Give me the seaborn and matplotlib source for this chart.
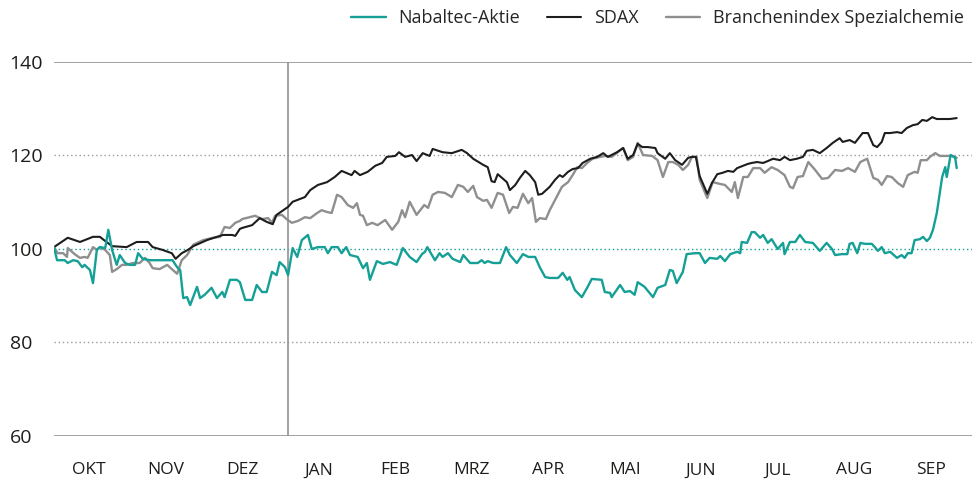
import seaborn as sns
import matplotlib.pyplot as plt

# x positions are fractional months from 1 Oct (0 = start of OKT, 12 = end of SEP)
months = ["OKT", "NOV", "DEZ", "JAN", "FEB", "MRZ", "APR", "MAI", "JUN", "JUL", "AUG", "SEP"]

sdax_x = [0.04, 0.22, 0.38, 0.55, 0.64, 0.71, 0.80, 0.99, 1.12, 1.27, 1.33, 1.46, 1.58, 1.63, 1.71, 1.79, 1.86,
          2.04, 2.17, 2.25, 2.37, 2.41, 2.47,
          2.50, 2.63, 2.73, 2.82, 2.90, 2.95, 3.10, 3.16, 3.32, 3.39, 3.49, 3.61, 3.71, 3.80, 3.93, 3.97, 4.04,
          4.14, 4.24, 4.33, 4.39, 4.50, 4.55, 4.63, 4.72, 4.78, 4.86,
          4.95, 4.99, 5.12, 5.24, 5.37, 5.44, 5.52, 5.65, 5.71, 5.76, 5.80, 5.84, 5.91, 5.96, 6.00, 6.07, 6.13,
          6.20, 6.26, 6.33, 6.37, 6.42, 6.46, 6.52, 6.59, 6.65, 6.69, 6.76, 6.82, 6.89, 6.95, 7.05, 7.14, 7.22, 7.28,
          7.40, 7.48, 7.54, 7.61, 7.67, 7.73, 7.80, 7.90, 7.93, 8.03, 8.09, 8.16, 8.25, 8.33, 8.38, 8.43, 8.48,
          8.58, 8.64, 8.71, 8.78, 8.85, 8.92, 8.97, 9.05, 9.11, 9.16, 9.23, 9.31, 9.37, 9.44, 9.53, 9.59, 9.66,
          9.75, 9.83, 9.88, 9.96, 10.05, 10.14, 10.22, 10.31, 10.35, 10.44, 10.51, 10.61, 10.68, 10.75, 10.80,
          10.86, 10.90, 10.97, 11.06, 11.12, 11.19, 11.27, 11.33, 11.39, 11.45, 11.52, 11.58, 11.66, 11.75, 11.84]
sdax = [100.4, 102.4, 101.5, 102.6, 102.6, 101.7, 100.6, 100.4, 101.5, 101.5, 100.4, 99.8, 99.1, 97.9, 99.1, 99.8, 100.6,
        101.9, 102.6, 103.0, 103.0, 102.8, 104.3,
        104.5, 105.1, 106.6, 105.8, 105.3, 107.3, 109.0, 110.1, 111.1, 112.6, 113.7, 114.3, 115.4, 116.7, 115.8, 116.7, 115.8,
        116.5, 117.8, 118.4, 119.7, 119.9, 120.7, 119.7, 120.1, 118.8, 120.5,
        119.9, 121.4, 120.7, 120.5, 121.2, 120.5, 119.3, 118.0, 117.5, 114.5, 114.3, 116.0, 115.0, 114.3, 112.6, 113.7, 115.2,
        116.7, 115.8, 114.3, 111.6, 111.8, 112.4, 113.3, 114.8, 115.8, 115.4, 116.5, 117.1, 117.3, 118.4, 119.3, 119.7, 120.5, 119.7,
        120.7, 121.6, 119.3, 120.1, 122.5, 121.8, 121.8, 121.6, 120.5, 119.3, 120.5, 119.0, 118.0, 119.5, 119.7, 119.7, 115.6,
        111.8, 114.1, 116.0, 116.3, 116.7, 116.5, 117.3, 117.8, 118.2, 118.4, 118.6, 118.4, 118.8, 119.3, 119.0, 119.7, 119.0,
        119.3, 119.7, 121.0, 121.2, 120.5, 121.6, 122.7, 123.7, 122.9, 123.3, 122.7, 124.8, 124.8, 122.2, 121.8,
        122.9, 124.8, 124.8, 125.0, 124.8, 125.9, 126.5, 126.7, 127.6, 127.4, 128.2, 127.8, 127.8, 127.8, 128.0]

chem_x = [0.04, 0.09, 0.16, 0.21, 0.22, 0.31, 0.38, 0.44, 0.48, 0.55, 0.60, 0.64, 0.71, 0.77, 0.80, 0.86, 0.93, 0.99,
          1.07, 1.16, 1.23, 1.29, 1.33, 1.42, 1.52, 1.58, 1.65, 1.71, 1.78, 1.86, 1.99, 2.12, 2.21, 2.27, 2.34, 2.41, 2.47,
          2.50, 2.60, 2.67, 2.76, 2.84, 2.89, 2.93, 3.02, 3.08, 3.15, 3.23, 3.32, 3.39, 3.48, 3.54, 3.61, 3.67, 3.74,
          3.80, 3.88, 3.95, 4.00, 4.04, 4.08, 4.13, 4.20, 4.27, 4.37, 4.46, 4.54, 4.59, 4.63, 4.69, 4.78, 4.88,
          4.93, 4.99, 5.06, 5.15, 5.24, 5.32, 5.39, 5.45, 5.52, 5.57, 5.65, 5.70, 5.76, 5.84, 5.91, 5.99, 6.04, 6.10,
          6.17, 6.24, 6.29, 6.34, 6.39, 6.47, 6.52, 6.59, 6.68, 6.76, 6.82, 6.88, 6.94, 7.01, 7.08, 7.18, 7.24,
          7.33, 7.41, 7.48, 7.54, 7.61, 7.67, 7.74, 7.86, 7.93, 8.00, 8.07, 8.13, 8.20, 8.26, 8.33, 8.38, 8.44, 8.48,
          8.58, 8.65, 8.75, 8.81, 8.90, 8.94, 8.98, 9.05, 9.11, 9.18, 9.27, 9.33, 9.42, 9.50, 9.59, 9.66,
          9.70, 9.76, 9.83, 9.90, 9.99, 10.08, 10.16, 10.25, 10.34, 10.42, 10.51, 10.58, 10.67, 10.75, 10.81, 10.86,
          10.93, 10.99, 11.07, 11.14, 11.20, 11.29, 11.33, 11.37, 11.45, 11.49, 11.56, 11.62, 11.73, 11.79, 11.84]
chem = [100.4, 99.1, 99.1, 98.3, 100.2, 98.9, 98.1, 98.3, 98.1, 100.4, 99.8, 100.4, 99.8, 98.7, 95.1, 95.7, 96.6, 96.6,
        97.0, 97.0, 98.1, 97.0, 95.9, 95.7, 96.6, 95.7, 94.7, 97.6, 98.7, 100.9, 101.9, 102.4, 102.6, 104.7, 104.5, 105.6, 106.0,
        106.4, 106.8, 107.1, 106.4, 106.6, 105.6, 107.1, 107.3, 106.4, 105.6, 106.0, 106.8, 106.6, 107.7, 108.3, 107.9, 107.7, 111.6,
        111.1, 109.4, 108.8, 109.8, 107.3, 107.1, 105.1, 105.6, 105.1, 106.2, 104.1, 105.8, 108.3, 106.8, 110.1, 107.3, 109.4,
        108.8, 111.6, 112.2, 112.0, 111.1, 113.7, 113.3, 112.2, 113.5, 111.1, 110.3, 110.5, 108.8, 112.0, 111.6, 107.7, 109.0, 108.8,
        111.8, 109.8, 110.9, 105.8, 106.6, 106.4, 108.3, 110.5, 113.3, 114.3, 115.8, 117.5, 117.3, 118.4, 119.3, 119.7, 119.9,
        119.7, 120.7, 121.6, 119.0, 119.7, 122.7, 120.1, 119.9, 119.0, 115.4, 118.6, 118.6, 118.0, 116.9, 118.0, 119.7, 119.7, 114.8,
        110.9, 114.3, 113.9, 113.7, 112.2, 114.3, 110.9, 115.4, 115.4, 117.3, 117.3, 116.3, 117.5, 116.9, 115.8, 113.3,
        113.0, 115.4, 115.6, 118.6, 116.9, 115.0, 115.2, 116.9, 116.7, 117.3, 116.5, 118.6, 119.3, 115.2, 114.8, 113.7,
        115.6, 115.4, 114.1, 113.3, 115.8, 116.5, 116.3, 119.0, 119.0, 119.7, 120.5, 119.9, 119.9, 119.9, 119.5]

nab_x = [0.04, 0.08, 0.18, 0.22, 0.29, 0.35, 0.41, 0.44, 0.51, 0.55, 0.60, 0.64, 0.71, 0.75, 0.80, 0.86, 0.90, 0.97,
         1.03, 1.10, 1.14, 1.20, 1.29, 1.46, 1.59, 1.65, 1.69, 1.73, 1.78, 1.82, 1.91, 1.95, 2.01, 2.10, 2.17, 2.24, 2.27,
         2.34, 2.43, 2.47,
         2.54, 2.63, 2.69, 2.76, 2.82, 2.89, 2.95, 2.99, 3.06, 3.10, 3.16, 3.22, 3.28, 3.36, 3.41, 3.49, 3.58, 3.62,
         3.67, 3.75, 3.80, 3.86, 3.91, 4.01, 4.08, 4.13, 4.17, 4.26, 4.34, 4.43, 4.52, 4.60, 4.69, 4.78, 4.85, 4.89,
         4.92, 5.02, 5.08, 5.12, 5.19, 5.25, 5.35, 5.39, 5.48, 5.58, 5.63, 5.67, 5.71, 5.78, 5.87, 5.95, 6.00, 6.09,
         6.17, 6.24, 6.33, 6.39, 6.46, 6.52, 6.63, 6.69, 6.75, 6.78, 6.85, 6.94, 7.01, 7.07, 7.20, 7.24, 7.31,
         7.33, 7.44, 7.50, 7.57, 7.63, 7.67, 7.76, 7.87, 7.93, 8.03, 8.09, 8.13, 8.18, 8.26, 8.31, 8.42, 8.48, 8.55,
         8.61, 8.71, 8.75, 8.81, 8.88, 8.97, 9.01, 9.03, 9.10, 9.16, 9.20, 9.27, 9.31, 9.37, 9.42, 9.50, 9.57, 9.59, 9.66,
         9.73, 9.79, 9.86, 9.96, 10.05, 10.14, 10.21, 10.25, 10.34, 10.41, 10.44, 10.48, 10.54, 10.58, 10.64, 10.73,
         10.77, 10.81, 10.86, 10.90, 10.97, 11.06, 11.12, 11.16, 11.20, 11.25, 11.29, 11.36, 11.40, 11.45, 11.49,
         11.53, 11.58, 11.65, 11.69, 11.71, 11.76, 11.82, 11.84]
nab = [100.4, 97.6, 97.6, 97.0, 97.6, 97.4, 96.1, 96.6, 95.5, 92.7, 99.8, 100.4, 100.2, 104.1, 99.8, 96.6, 98.7, 97.0,
       96.6, 96.6, 99.1, 97.9, 97.6, 97.6, 97.6, 96.1, 95.5, 89.5, 89.7, 88.0, 91.9, 89.5, 90.2, 91.7, 89.5, 90.8, 89.7,
       93.4, 93.4, 92.9,
       89.1, 89.1, 92.3, 90.8, 90.8, 95.1, 94.4, 97.2, 96.1, 94.4, 100.2, 98.3, 101.9, 103.0, 100.0, 100.4, 100.4, 99.1,
       100.4, 100.4, 99.1, 100.4, 98.7, 98.3, 95.9, 97.0, 93.4, 97.4, 96.8, 97.2, 96.6, 100.2, 98.3, 97.2, 98.9, 99.4,
       100.4, 97.6, 99.1, 98.3, 99.1, 97.9, 97.2, 98.7, 97.0, 97.0, 97.6, 97.0, 97.4, 97.0, 97.0, 100.4, 98.7, 97.0,
       98.9, 98.3, 98.3, 96.1, 94.0, 93.8, 93.8, 94.9, 93.4, 94.0, 91.2, 89.7, 91.7, 93.6, 93.4, 90.8, 90.6,
       89.7, 92.3, 90.8, 91.0, 90.2, 92.9, 91.9, 89.7, 91.7, 92.3, 95.5, 95.3, 92.7, 95.1, 98.9, 99.1, 99.1, 97.0,
       98.1, 97.9, 98.5, 97.4, 98.9, 99.4, 99.1, 101.5, 101.3, 103.6, 103.6, 102.4, 103.0, 101.3, 102.1, 100.0, 101.3, 98.9, 101.5,
       101.5, 103.0, 101.5, 101.3, 99.6, 101.3, 100.0, 98.7, 98.9, 98.9, 101.1, 101.3, 99.1, 101.3, 101.1, 101.1,
       100.4, 99.6, 100.4, 99.1, 99.4, 98.1, 98.7, 98.1, 99.1, 99.1, 101.9, 102.1, 102.6, 101.7, 102.4,
       104.1, 107.7, 115.4, 117.5, 115.4, 120.1, 119.5, 117.3]

teal = "#14a096"
black = "#1d1d1b"
grey = "#8f8f8f"

sns.set_style("white")
plt.rcParams["font.family"] = ["Open Sans", "DejaVu Sans"]

fig = plt.figure(figsize=(9.76, 4.79), dpi=100)
ax = fig.add_axes([0.0553, 0.0898, 0.9406, 0.7808])

# reference lines
ax.axhline(140, color="#9a9a9a", lw=1.3, zorder=1)
ax.axhline(60, color="#9a9a9a", lw=1.3, zorder=1)
ax.axhline(120, color="#9a9a9a", lw=1.0, ls=(0, (1, 2)), zorder=1)
ax.axhline(80, color="#9a9a9a", lw=1.0, ls=(0, (1, 2)), zorder=1)
ax.axhline(100, color=teal, lw=1.0, ls=(0, (1, 2)), zorder=1)
ax.axvline(3.10, color="#9a9a9a", lw=1.3, zorder=1)

sns.lineplot(x=chem_x, y=chem, color=grey, lw=1.7, estimator=None, ax=ax, zorder=2,
             label="Branchenindex Spezialchemie")
sns.lineplot(x=sdax_x, y=sdax, color=black, lw=1.5, estimator=None, ax=ax, zorder=3, label="SDAX")
sns.lineplot(x=nab_x, y=nab, color=teal, lw=1.7, estimator=None, ax=ax, zorder=4, label="Nabaltec-Aktie")

ax.set_xlim(0.04, 12.04)
ax.set_ylim(60, 140)
ax.set_xticks([i + 0.5 for i in range(12)])
ax.set_xticklabels(months)
ax.set_yticks([60, 80, 100, 120, 140])
for lab in ax.get_yticklabels():
    lab.set_horizontalalignment("left")
ax.tick_params(axis="y", length=0, pad=32, labelsize=14, labelcolor="#1d1d1b")
ax.tick_params(axis="x", length=0, pad=19, labelsize=12.5, labelcolor="#1d1d1b")
ax.set_xlabel("")
ax.set_ylabel("")
sns.despine(ax=ax, left=True, bottom=True, top=True, right=True)

handles, labels = ax.get_legend_handles_labels()
ax.get_legend().remove()
order = [2, 1, 0]
fig.legend([handles[i] for i in order], [labels[i] for i in order], loc="upper right",
           bbox_to_anchor=(1.004, 1.015), ncol=3, frameon=False, fontsize=13, handlelength=1.9,
           columnspacing=1.5, handletextpad=0.7)

plt.savefig("out.png", dpi=100)
